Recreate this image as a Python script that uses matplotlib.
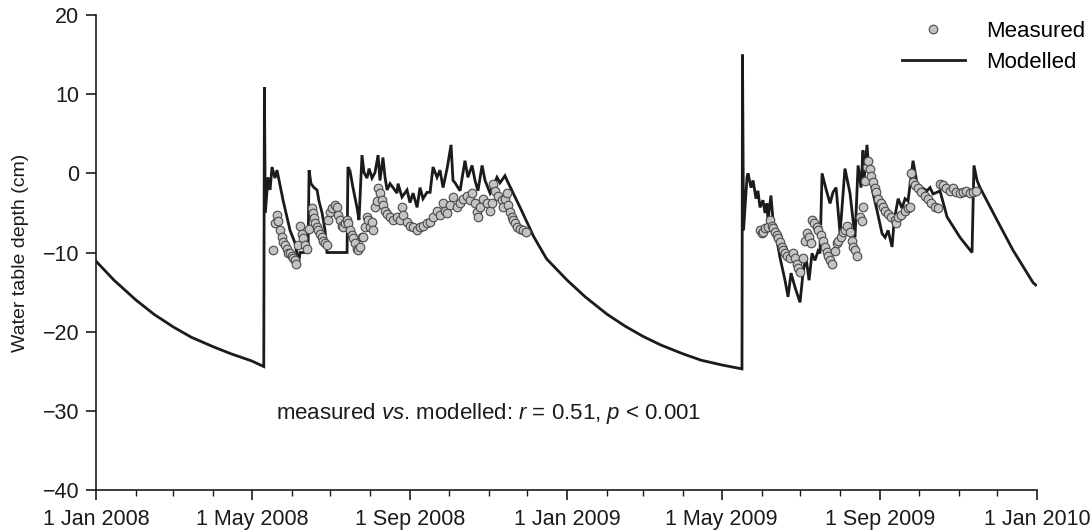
import numpy as np
import pandas as pd
import matplotlib
matplotlib.use("Agg")
import matplotlib.pyplot as plt
import matplotlib.dates as mdates

plt.rcParams['font.family'] = ['Liberation Sans', 'DejaVu Sans']
plt.rcParams['mathtext.fontset'] = 'custom'
plt.rcParams['mathtext.rm'] = 'Liberation Sans'
plt.rcParams['mathtext.it'] = 'Liberation Sans:italic'

START = pd.Timestamp('2008-01-01')

# Modelled water table depth (cm); days since 1 Jan 2008
model_days = [
    0, 14, 31, 45, 60, 74, 91, 105, 121, 130.3,
    130.8, 131.5, 133.6, 135.2, 136.7, 139.0, 140.6, 145.3, 150.7, 154.6,
    156.1, 156.9, 158.5, 164.7, 165.5, 167.0, 169.3, 171.7, 173.2, 175.6,
    177.9, 179.4, 195.0, 195.7, 197.3, 199.6, 202.7, 204.3, 206.6, 208.2,
    210.5, 212.1, 214.4, 216.7, 219.1, 220.6, 222.9, 224.5, 226.1, 228.4,
    230.7, 233.8, 234.6, 237.7, 241.6, 243.9, 246.3, 249.4, 251.7, 254.0,
    257.1, 259.5, 261.8, 264.9, 267.2, 269.6, 272.7, 275.8, 277.3, 278.9,
    282.8, 286.6, 288.9, 292.1, 294.4, 296.7, 299.9, 302.2, 306.1, 311.5,
    313.8, 317.7, 319.3,
    330, 340, 350, 366, 380, 397, 411, 425, 439, 456, 470, 486, 501.8,
    502.2, 503.0, 505.7, 506.5, 508.8, 510.4, 512.7, 514.2, 515.8, 518.1,
    519.7, 521.2, 522.0, 524.3, 525.9, 529.0, 531.3, 535.2, 537.6, 539.9,
    543.0, 546.9, 549.2, 551.5, 553.9, 556.2, 558.5, 560.9, 562.4, 564.0,
    567.1, 570.2, 572.5, 574.9, 578.0, 581.8, 585.7, 589.6, 592.0, 594.3,
    595.8, 596.6, 598.9, 600.5, 603.6, 606.7, 610.6, 613.0, 615.3, 618.4,
    620.0, 623.1, 626.1, 628.5, 630.8, 634.7, 637.8, 641.6, 645.5, 647.9,
    650.2, 653.3, 655.6, 661.1, 671.2, 680.5, 682.0, 684.4, 686.7, 699.9,
    712.3, 727.9, 730.0,
]
model_depth = [
    -11.1, -13.5, -16.0, -17.8, -19.4, -20.7, -21.9, -22.8, -23.7, -24.4,
    10.9, -5.0, -0.5, -2.1, 0.8, -0.6, 0.4, -3.4, -7.2, -8.8,
    -10.1, -11.9, -10.0, -10.0, 0.4, -1.3, -1.8, -2.1, -3.5, -5.0,
    -7.2, -10.0, -10.0, 0.8, 0.3, -1.8, -4.3, -5.9, 2.3, 0.1,
    -0.6, 0.6, -0.6, 0.1, 2.3, -0.9, 2.0, -0.5, -2.1, -1.3,
    -1.8, -2.5, -1.3, -3.0, -2.1, -3.7, -2.5, -4.3, -1.8, -3.2,
    -2.4, -2.4, 0.8, -0.5, 0.4, -1.8, 0.6, 3.6, -0.9, -1.2,
    -2.2, 1.6, -0.5, 1.0, -0.9, -2.2, 1.0, -0.9, -2.5, -0.5,
    -1.2, -0.3, -0.9,
    -4.5, -8.0, -10.8, -13.5, -15.6, -17.8, -19.3, -20.6, -21.7, -22.8, -23.6, -24.2, -24.7,
    15.0, -7.2, -0.5, 0.0, -1.8, -0.9, -3.2, -2.2, -4.3, -3.4,
    -5.0, -3.8, -5.9, -2.8, -5.9, -8.5, -10.6, -13.5, -15.6, -12.6,
    -14.4, -16.3, -12.6, -10.6, -13.5, -10.1, -11.0, -9.8, -10.1, 0.0,
    -2.0, -3.8, -2.4, -1.8, -7.6, 0.6, -2.5, -8.1, 1.0, -1.8,
    2.9, -0.9, 3.6, 0.0, -2.5, -4.7, -7.6, -8.1, -7.2, -9.3,
    -6.0, -3.2, -4.4, -3.2, -3.5, 1.6, -1.3, -1.8, -2.2, -1.8,
    -2.6, -2.4, -2.2, -5.5, -8.1, -10.0, 1.0, -0.9, -1.8, -5.9,
    -9.7, -13.8, -14.1,
]

# Measured water table depth (cm); days since 1 Jan 2008
meas_days = [
    137.5, 139.0, 140.6, 141.4, 142.9, 144.5, 145.3, 146.8, 148.4, 149.1,
    150.7, 152.3, 153.0, 154.6, 155.4, 156.9, 158.5, 160.0, 160.8, 162.4,
    163.9, 165.4, 167.8, 168.6, 169.3, 170.1, 171.7, 172.5, 174.0, 175.6,
    176.3, 177.9, 179.4, 180.2, 181.8, 183.3, 185.7, 187.2, 188.0, 189.5,
    191.1, 191.9, 193.4, 195.0, 195.8, 197.3, 198.9, 199.6, 201.2, 202.7,
    203.5, 205.1, 206.6, 207.4, 209.0, 210.5, 211.3, 212.8, 214.4, 215.2,
    216.7, 218.3, 219.1, 220.6, 222.2, 222.9, 224.5, 226.1, 228.4, 230.7,
    233.8, 236.1, 237.7, 238.5, 241.6, 243.9, 246.3, 249.4, 251.7, 254.0,
    257.1, 259.5, 261.8, 264.9, 267.2, 269.6, 271.1, 272.7, 275.0, 277.3,
    280.4, 282.8, 285.1, 288.2, 290.5, 292.1, 294.4, 296.0, 296.7, 298.3,
    300.6, 303.7, 306.1, 307.6, 308.4, 310.0, 312.3, 315.4, 316.2, 317.7,
    319.3, 320.0, 321.6, 323.2, 323.9, 325.5, 327.0, 329.4, 331.7, 334.0,
    515.8, 517.3, 518.1, 519.7, 522.0, 523.6, 525.1, 525.9, 527.5, 529.0,
    529.8, 531.3, 532.9, 533.7, 535.2, 536.8, 539.1, 541.4, 543.0, 544.5,
    545.3, 546.9, 549.2, 550.8, 552.3, 553.9, 555.4, 556.2, 557.8, 560.1,
    560.9, 563.2, 564.8, 566.3, 567.9, 568.7, 570.2, 571.8, 574.1, 575.7,
    576.4, 578.7, 580.3, 581.8, 583.4, 585.7, 587.3, 588.1, 589.6, 591.2,
    593.5, 595.1, 595.8, 597.4, 598.9, 599.7, 601.2, 602.0, 603.6, 605.1,
    605.9, 607.4, 609.8, 611.3, 612.9, 615.2, 617.5, 620.6, 621.4, 623.0,
    625.3, 628.4, 630.8, 632.3, 633.1, 634.6, 636.2, 638.5, 640.9, 644.0,
    646.3, 648.7, 651.8, 654.1, 655.7, 658.0, 660.3, 663.4, 665.8, 668.1,
    671.2, 673.5, 675.9, 679.0, 681.3, 683.7,
]
meas_depth = [
    -9.7, -6.3, -5.3, -6.0, -7.2, -8.1, -8.7, -9.1, -9.5, -10.0,
    -10.1, -10.4, -10.7, -11.0, -11.4, -9.1, -6.6, -7.6, -8.2, -9.1,
    -9.5, -7.0, -4.4, -5.0, -5.7, -6.3, -6.8, -7.2, -7.6, -8.1,
    -8.5, -8.8, -9.1, -5.9, -4.9, -4.4, -4.0, -4.3, -5.3, -5.9,
    -6.6, -6.8, -6.3, -5.9, -6.3, -7.2, -7.8, -8.2, -8.8, -9.5,
    -9.7, -9.3, -8.1, -8.1, -6.8, -5.5, -5.9, -6.8, -6.2, -7.2,
    -4.3, -3.5, -1.8, -2.5, -3.4, -4.0, -4.7, -5.1, -5.5, -5.9,
    -5.5, -5.9, -4.3, -5.3, -6.2, -6.6, -6.8, -7.1, -6.8, -6.6,
    -6.3, -6.2, -5.5, -4.7, -5.3, -3.8, -4.7, -5.0, -4.0, -3.0,
    -4.3, -3.7, -3.2, -2.8, -3.4, -2.5, -3.8, -4.9, -5.5, -4.3,
    -3.2, -3.7, -4.7, -3.7, -1.3, -2.2, -2.8, -3.4, -4.3, -3.2,
    -2.5, -4.0, -4.9, -5.5, -5.9, -6.3, -6.8, -7.0, -7.2, -7.4,
    -7.2, -7.5, -7.4, -6.9, -6.8, -5.9, -6.6, -6.9, -7.4, -7.8,
    -8.2, -8.7, -9.3, -9.7, -10.1, -10.4, -10.7, -10.0, -10.7, -11.4,
    -12.0, -12.5, -10.7, -8.5, -7.5, -8.1, -8.8, -5.9, -6.3, -6.8,
    -7.2, -7.8, -8.5, -9.3, -9.9, -10.5, -10.9, -11.4, -9.8, -8.8,
    -8.5, -8.1, -7.4, -7.2, -6.6, -7.4, -8.5, -9.3, -9.7, -10.4,
    -5.5, -6.0, -4.3, -1.0, 0.8, 1.6, 0.6, -0.3, -1.1, -1.8,
    -2.4, -3.2, -3.7, -4.3, -4.7, -5.1, -5.5, -5.9, -6.3, -5.5,
    -5.3, -4.7, -4.4, -4.3, 0.0, -1.1, -1.5, -1.9, -2.4, -2.8,
    -3.2, -3.7, -4.3, -4.4, -1.3, -1.5, -1.9, -2.2, -1.9, -2.4,
    -2.5, -2.4, -2.2, -2.5, -2.4, -2.2,
]

y_ticks = [-40, -30, -20, -10, 0, 10, 20]
x_major = ['2008-01-01', '2008-05-01', '2008-09-01', '2009-01-01',
           '2009-05-01', '2009-09-01', '2010-01-01']
x_major_labels = ['1 Jan 2008', '1 May 2008', '1 Sep 2008', '1 Jan 2009',
                  '1 May 2009', '1 Sep 2009', '1 Jan 2010']

model_dates = START + pd.to_timedelta(model_days, unit='D')
meas_dates = START + pd.to_timedelta(meas_days, unit='D')

INK = '#1c1a1a'
FS = 15.5

fig = plt.figure(figsize=(10.9, 5.32), dpi=100)
ax = fig.add_axes([0.0881, 0.0789, 0.9514 - 0.0881, 0.9718 - 0.0789])

ax.plot(model_dates, model_depth, color=INK, lw=2.0, zorder=2,
        solid_joinstyle='miter', label='Modelled')
ax.plot(meas_dates, meas_depth, ls='none', marker='o', ms=6.2,
        mfc='#c4c4c4', mec='#4a4a4a', mew=0.8, zorder=3, label='Measured')

ax.set_xlim(pd.Timestamp('2008-01-01'), pd.Timestamp('2010-01-01'))
ax.set_ylim(-40, 20)
ax.set_yticks(y_ticks)
ax.set_xticks(pd.to_datetime(x_major))
ax.set_xticklabels(x_major_labels)
ax.xaxis.set_minor_locator(mdates.MonthLocator())

for s in ['top', 'right']:
    ax.spines[s].set_visible(False)
for s in ['left', 'bottom']:
    ax.spines[s].set_linewidth(1.2)
    ax.spines[s].set_color(INK)

ax.tick_params(axis='both', which='major', direction='out', length=7,
               width=1.2, labelsize=FS, colors=INK)
ax.tick_params(axis='x', which='major', pad=7)
ax.tick_params(axis='y', which='major', pad=5)
ax.tick_params(axis='x', which='minor', direction='out', length=4, width=1.0,
               colors=INK)
ax.set_ylabel('Water table depth (cm)', fontsize=14, color=INK, labelpad=10)

handles, labels = ax.get_legend_handles_labels()
leg = ax.legend(handles[::-1], labels[::-1], loc='upper right',
                bbox_to_anchor=(1.072, 1.03), frameon=False, fontsize=16,
                handlelength=2.8, handletextpad=0.95, labelspacing=0.45)

ax.text(0.417, 0.162,
        r'measured $\mathit{vs}$. modelled: $\mathit{r}$ = 0.51, $\mathit{p}$ < 0.001',
        transform=ax.transAxes, ha='center', va='center', fontsize=16,
        color=INK)

fig.savefig('out.png', dpi=100)
